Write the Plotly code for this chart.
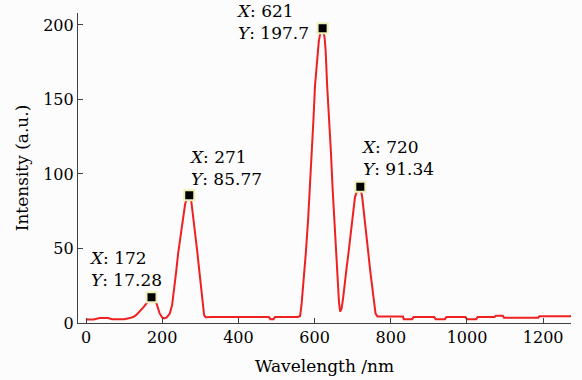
import plotly.graph_objects as go

# Spectrum data
wavelength = [0, 20, 36, 58, 68, 100, 115, 125, 132, 141, 150, 160, 172, 185, 193, 200, 205, 212,
              220, 226, 231, 236, 242, 248, 254, 260, 265, 271, 276, 282, 287, 292, 297, 301, 304,
              307, 310, 314, 330, 480, 484, 492, 496, 556, 562, 566, 570, 577, 583, 588, 592, 597,
              601, 606, 611, 616, 621, 626, 629, 633, 639, 643, 647, 652, 656, 661, 664, 667, 671,
              675, 678, 684, 689, 694, 699, 706, 714, 720, 725, 732, 737, 741, 746, 751, 756, 760,
              765, 832, 834, 856, 860, 914, 918, 942, 946, 996, 1000, 1024, 1028, 1072, 1076, 1094,
              1097, 1187, 1190, 1273]
intensity = [2.3, 2.4, 3.3, 3.3, 2.5, 2.6, 3.3, 4.2, 5.4, 7.7, 10.3, 13.5, 17.28, 13.3, 6.6, 3.7, 3.1, 3.7,
             6.3, 12, 21, 33, 47, 59, 70, 79.5, 84.3, 85.77, 82.5, 70.5, 59.5, 48, 36, 26, 17,
             9, 5.3, 3.8, 4.0, 4.0, 2.6, 2.6, 4.0, 4.1, 4.7, 13, 24.5, 47, 69.5, 91.5, 114, 136.5,
             159, 176, 189, 196, 197.7, 192, 183, 159, 136.5, 114, 91.5, 69.5, 47, 24.5, 14, 7.7, 9.8,
             17, 24.5, 37, 47, 58, 69.5, 84.5, 90.5, 91.34, 84.5, 69.5, 57.5, 47, 35, 24.5, 13, 6.3,
             4.3, 4.3, 2.6, 2.6, 4.0, 4.0, 2.6, 2.6, 4.0, 4.0, 2.6, 2.6, 4.0, 4.0, 4.9, 4.9,
             3.6, 3.6, 4.5, 4.5]

# Data tips
tip_x = [172, 271, 621, 720]
tip_y = [17.28, 85.77, 197.7, 91.34]
tip_xlabels = ["172", "271", "621", "720"]
tip_ylabels = ["17.28", "85.77", "197.7", "91.34"]

x_ticks = [0, 200, 400, 600, 800, 1000, 1200]
y_ticks = [0, 50, 100, 150, 200]

FONT = "DejaVu Serif"

fig = go.Figure()
fig.add_trace(go.Scatter(x=wavelength, y=intensity, mode="lines",
                         line=dict(color="rgb(238,32,32)", width=2), showlegend=False))
fig.add_trace(go.Scatter(x=tip_x, y=tip_y, mode="markers",
                         marker=dict(symbol="square", size=10, color="black",
                                     line=dict(color="#eeeebb", width=2)),
                         showlegend=False))

# text offsets (pixels) for each tip: (xshift, yshift)
offsets = [(-65, 28), (-2, 27), (-89, 6), (-1, 29)]
annotations = []
for i in range(len(tip_x)):
    xs, ys = offsets[i]
    annotations.append(dict(x=tip_x[i], y=tip_y[i], xref="x", yref="y",
                            text="<i>X</i>: " + tip_xlabels[i] + "<br><i>Y</i>: " + tip_ylabels[i],
                            showarrow=False, align="left",
                            xanchor="left", yanchor="middle", xshift=xs, yshift=ys,
                            font=dict(family=FONT, size=17, color="black")))

axis_common = dict(showline=True, linecolor="#404040", linewidth=1.2, ticks="inside",
                   ticklen=5, tickcolor="#404040", showgrid=False, zeroline=False,
                   tickfont=dict(family=FONT, size=16, color="black"))

fig.update_layout(
    width=582, height=380,
    margin=dict(l=78, r=11, t=13, b=57, autoexpand=False),
    paper_bgcolor="#fcfcfc", plot_bgcolor="#fcfcfc",
    font=dict(family=FONT, size=16, color="black"),
    annotations=annotations,
    xaxis=dict(range=[-21, 1273], tickvals=x_ticks, ticktext=[str(v) for v in x_ticks],
               title=dict(text="Wavelength /nm", font=dict(family=FONT, size=17), standoff=13),
               **axis_common),
    yaxis=dict(range=[0, 208], tickvals=y_ticks, ticktext=[str(v) for v in y_ticks],
               title=dict(text="Intensity (a.u.)", font=dict(family=FONT, size=17), standoff=10),
               **axis_common),
)

fig.write_html("out.html")
